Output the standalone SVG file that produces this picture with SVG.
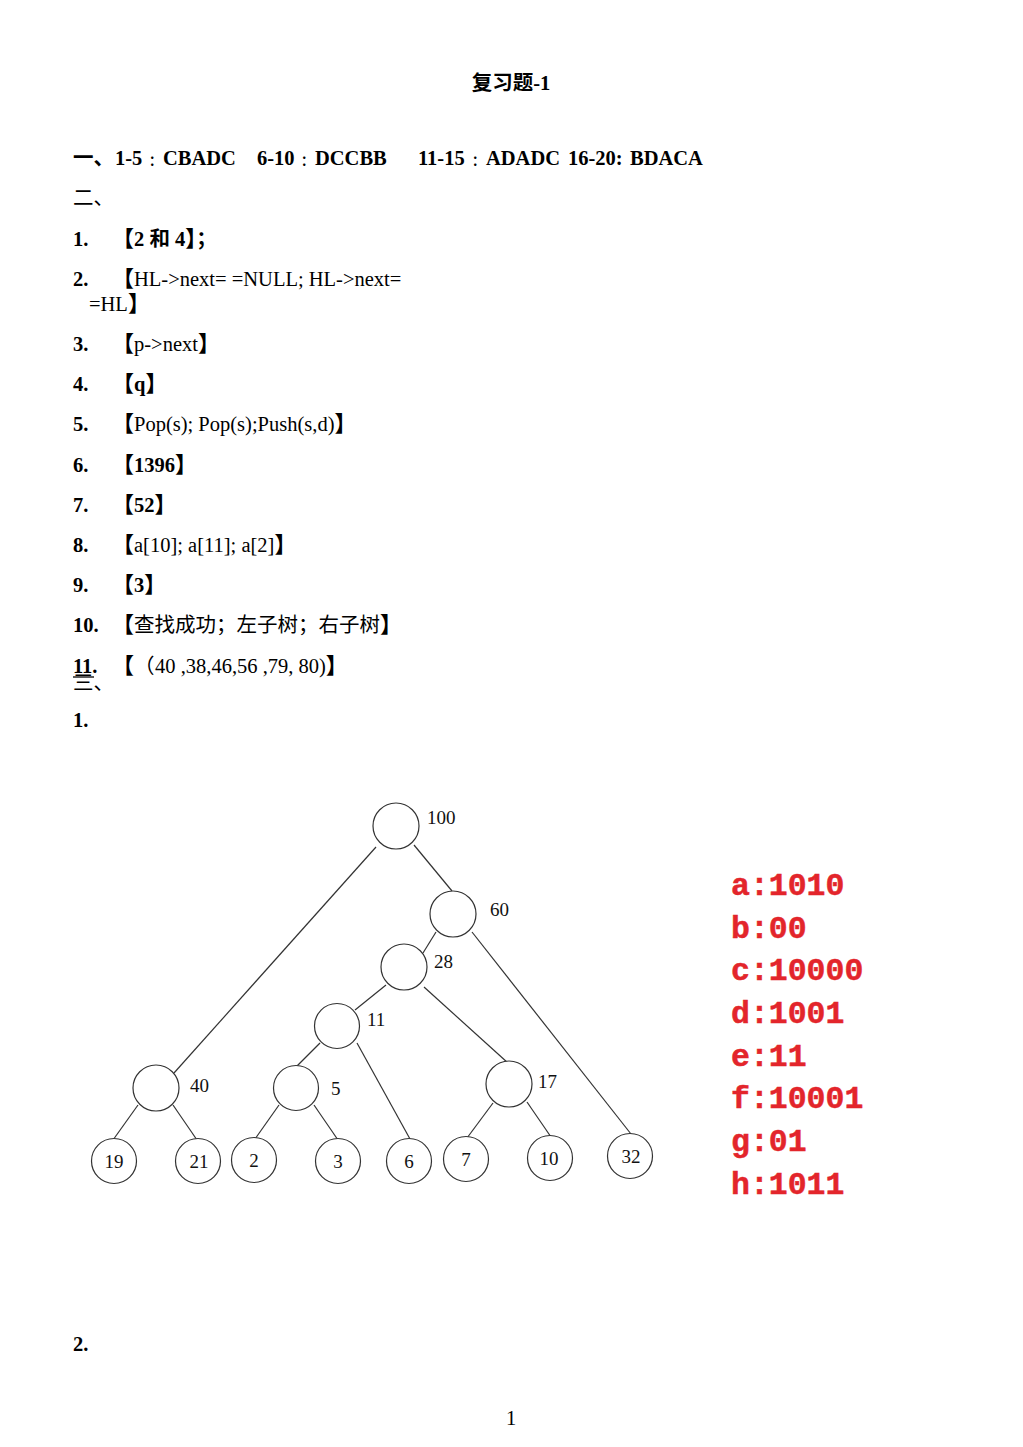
<svg xmlns="http://www.w3.org/2000/svg" width="1023" height="1447" viewBox="0 0 1023 1447">
<style>
.t{font-family:"Liberation Serif","Noto Sans CJK SC",serif;font-size:20.5px;fill:#000}
.b{font-weight:bold}
.cjk{font-family:"Noto Sans CJK SC",sans-serif}
.br{font-family:"Noto Sans CJK SC",sans-serif;font-weight:bold;font-size:22px}
.col{font-family:"Noto Sans CJK SC",sans-serif;font-size:13px}
.n{font-family:"Liberation Serif",serif;font-size:19px;fill:#111}
.c{text-anchor:middle}
circle.nd{fill:#fff;stroke:#333;stroke-width:1.2}
#edges line{stroke:#333;stroke-width:1.2}
.code{font-family:"Liberation Mono",monospace;font-weight:bold;font-size:31.5px;fill:#e3252b;stroke:#e3252b;stroke-width:0.5}
</style>
<rect width="1023" height="1447" fill="#fff"/>

<g id="header">
<text class="t b c" x="511" y="90" font-size="20">复习题-1</text>
<text class="t b" y="165"><tspan class="cjk" x="73">一、</tspan><tspan x="115">1-5</tspan><tspan class="col" x="149">：</tspan><tspan x="163">CBADC</tspan><tspan x="257">6-10</tspan><tspan class="col" x="301">：</tspan><tspan x="315">DCCBB</tspan><tspan x="418">11-15</tspan><tspan class="col" x="472">：</tspan><tspan x="486">ADADC</tspan><tspan x="568">16-20:</tspan><tspan x="630">BDACA</tspan></text>
<text class="t cjk" x="73" y="205">二、</text>
</g>

<g id="answers">
<text class="t b" x="73" y="246">1.</text><text class="t b" x="112" y="246"><tspan class="br">【</tspan>2 和 4<tspan class="br">】</tspan>；</text>
<text class="t b" x="73" y="286">2.</text><text class="t" x="112" y="286"><tspan class="br">【</tspan>HL-&gt;next= =NULL; HL-&gt;next=</text>
<text class="t" x="89" y="311">=HL<tspan class="br">】</tspan></text>
<text class="t b" x="73" y="351">3.</text><text class="t" x="112" y="351"><tspan class="br">【</tspan>p-&gt;next<tspan class="br">】</tspan></text>
<text class="t b" x="73" y="391">4.</text><text class="t b" x="112" y="391"><tspan class="br">【</tspan>q<tspan class="br">】</tspan></text>
<text class="t b" x="73" y="431">5.</text><text class="t" x="112" y="431"><tspan class="br">【</tspan>Pop(s); Pop(s);Push(s,d)<tspan class="br">】</tspan></text>
<text class="t b" x="73" y="472">6.</text><text class="t b" x="112" y="472"><tspan class="br">【</tspan>1396<tspan class="br">】</tspan></text>
<text class="t b" x="73" y="512">7.</text><text class="t b" x="112" y="512"><tspan class="br">【</tspan>52<tspan class="br">】</tspan></text>
<text class="t b" x="73" y="552">8.</text><text class="t" x="112" y="552"><tspan class="br">【</tspan>a[10]; a[11]; a[2]<tspan class="br">】</tspan></text>
<text class="t b" x="73" y="592">9.</text><text class="t b" x="112" y="592"><tspan class="br">【</tspan>3<tspan class="br">】</tspan></text>
<text class="t b" x="73" y="632">10.</text><text class="t" x="112" y="632"><tspan class="br">【</tspan>查找成功；左子树；右子树<tspan class="br">】</tspan></text>
<text class="t b" x="73" y="673">11.</text><line x1="73" y1="677" x2="94" y2="677" stroke="#000" stroke-width="1.3"/>
<text class="t" x="112" y="673"><tspan class="br">【</tspan><tspan class="cjk" x="134">（</tspan><tspan x="155">40 ,38,46,56 ,79, 80)</tspan><tspan class="br">】</tspan></text>
<text class="t cjk" x="73" y="690">三、</text>
<text class="t b" x="73" y="727">1.</text>
<text class="t b" x="73" y="1351">2.</text>
<text class="t c" x="511" y="1425" font-size="13">1</text>
</g>

<g id="edges">
<line x1="376" y1="847" x2="174" y2="1073"/>
<line x1="414" y1="845" x2="452" y2="891"/>
<line x1="436" y1="932" x2="423" y2="953"/>
<line x1="472" y1="932" x2="631" y2="1134"/>
<line x1="386" y1="985" x2="355" y2="1010"/>
<line x1="424" y1="987" x2="508" y2="1063"/>
<line x1="320" y1="1043" x2="297" y2="1066"/>
<line x1="357" y1="1043" x2="410" y2="1139"/>
<line x1="138" y1="1105" x2="113" y2="1140"/>
<line x1="173" y1="1105" x2="197" y2="1140"/>
<line x1="279" y1="1105" x2="255" y2="1139"/>
<line x1="314" y1="1105" x2="338" y2="1140"/>
<line x1="493" y1="1103" x2="467" y2="1138"/>
<line x1="527" y1="1102" x2="551" y2="1137"/>
</g>

<g id="n100"><circle class="nd" cx="396" cy="826" r="23"/><text class="n" x="427" y="824">100</text></g>
<g id="n60"><circle class="nd" cx="453" cy="914" r="23"/><text class="n" x="490" y="916">60</text></g>
<g id="n28"><circle class="nd" cx="404" cy="967" r="23"/><text class="n" x="434" y="968">28</text></g>
<g id="n11"><circle class="nd" cx="337" cy="1026" r="22.5"/><text class="n" x="367" y="1026">11</text></g>
<g id="n40"><circle class="nd" cx="156" cy="1088" r="23"/><text class="n" x="190" y="1092">40</text></g>
<g id="n5"><circle class="nd" cx="296" cy="1088" r="22.5"/><text class="n" x="331" y="1095">5</text></g>
<g id="n17"><circle class="nd" cx="509" cy="1084" r="23"/><text class="n" x="538" y="1088">17</text></g>
<g id="n19"><circle class="nd" cx="114" cy="1161" r="22.5"/><text class="n c" x="114" y="1168">19</text></g>
<g id="n21"><circle class="nd" cx="198" cy="1161" r="22.5"/><text class="n c" x="199" y="1168">21</text></g>
<g id="n2"><circle class="nd" cx="254" cy="1160" r="22.5"/><text class="n c" x="254" y="1167">2</text></g>
<g id="n3"><circle class="nd" cx="338" cy="1161" r="22.5"/><text class="n c" x="338" y="1168">3</text></g>
<g id="n6"><circle class="nd" cx="409" cy="1161" r="22.5"/><text class="n c" x="409" y="1168">6</text></g>
<g id="n7"><circle class="nd" cx="466" cy="1159" r="22.5"/><text class="n c" x="466" y="1166">7</text></g>
<g id="n10"><circle class="nd" cx="550" cy="1158" r="22.5"/><text class="n c" x="549" y="1165">10</text></g>
<g id="n32"><circle class="nd" cx="630" cy="1156" r="22.5"/><text class="n c" x="631" y="1163">32</text></g>

<g id="codes">
<text class="code" x="731" y="895">a:1010</text>
<text class="code" x="731" y="938">b:00</text>
<text class="code" x="731" y="980">c:10000</text>
<text class="code" x="731" y="1023">d:1001</text>
<text class="code" x="731" y="1066">e:11</text>
<text class="code" x="731" y="1108">f:10001</text>
<text class="code" x="731" y="1151">g:01</text>
<text class="code" x="731" y="1194">h:1011</text>
</g>
</svg>
